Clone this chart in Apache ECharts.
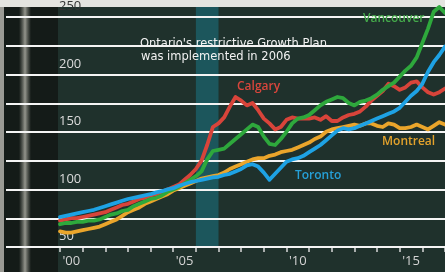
<!DOCTYPE html>
<html>
<head>
<meta charset="utf-8">
<script src="https://cdn.jsdelivr.net/npm/echarts@6/dist/echarts.min.js"></script>
<style>
  html, body { margin: 0; padding: 0; background: #e6e6e2; }
  #chart { width: 445px; height: 272px; }
</style>
</head>
<body>
<div id="chart"></div>
<script>
// years on the bottom axis
var years = ['2000','2001','2002','2003','2004','2005','2006','2007','2008','2009','2010','2011','2012','2013','2014','2015','2016'];
// index values, one per quarter from 2000 Q1 to 2017 Q1
var vancouver = [69,70,70,71,71,72,72,73,75,77,78,80,81,84,86,88,90,91,93,96,98,100,103,106,
                 109,113,123,130,131,132,136,140,144,148,152,150,142,136,135,140,146,153,157,158,
                 160,164,168,171,173,175,174,170,168,171,172,174,177,181,184,187,192,197,201,208,
                 220,232,246,250,245];
var calgary   = [72,73,74,74,75,76,77,78,79,81,83,85,86,88,90,91,93,94,96,98,100,102,106,110,
                 115,122,135,150,153,158,167,175,172,168,170,164,157,153,148,150,156,158,157,157,
                 157,158,156,159,155,155,158,160,161,163,167,172,176,180,186,184,181,183,187,188,
                 183,179,177,179,182];
var toronto   = [75,76,77,78,79,80,81,82.5,84,85.5,87,88.5,90,91,92,93,94,95.5,96.5,98,99,101,102.5,104,
                 105,106,107,108,108.5,110,111,113,115,118,119,117,112,106,111,116,121,123,124,126,
                 129,132,135,139,143,147,149,148,149,151,153,155,157,159,161,163,166,171,176,180,
                 186,196,204,210,217];
var montreal  = [63,62,62,63,64,65,66,67,69,71,73,76,79,81,83,86,88,90,92,94,97,99,101,103,
                 105,107,108,109,110,112,115,117,119,121,123,124,124,126,127,129,130,131,133,135,
                 137,140,142,146,148,149,150,151,152,151,153,153,151,150,153,152,149,149,150,152,
                 150,148,151,154,152];
var yTicks = [50, 100, 150, 200, 250];

function toPoints(vals) {
    var out = [];
    for (var i = 0; i < vals.length; i++) {
        out.push([2000 + i / 4, vals[i]]);
    }
    return out;
}

function lineSeries(name, vals, color) {
    return {
        name: name,
        type: 'line',
        xAxisIndex: 2,
        yAxisIndex: 1,
        data: toPoints(vals),
        showSymbol: false,
        z: 10,
        lineStyle: { color: color, width: 3.8, cap: 'round', join: 'round' }
    };
}

function label(text, x, y, color, family, size, weight) {
    return {
        type: 'text', x: x, y: y, z: 20,
        style: {
            text: text, fill: color,
            fontFamily: family, fontSize: size, fontWeight: weight,
            textVerticalAlign: 'middle', verticalAlign: 'middle'
        }
    };
}

var myChart = echarts.init(document.getElementById('chart'));
var option = {
    backgroundColor: '#1f312c',
    animation: false,
    grid: [
        { left: 6, right: 0, top: 7, bottom: 25 },
        { left: 60, right: 0, top: 7, bottom: 25 }
    ],
    graphic: [
        { type: 'rect', z: -10, shape: { x: 0, y: 0, width: 445, height: 7 }, style: { fill: '#e4e4e0' } },
        { type: 'rect', z: -10, shape: { x: 0, y: 7, width: 58, height: 265 }, style: { fill: '#141b18' } },
        { type: 'rect', z: -10, shape: { x: 0, y: 7, width: 4, height: 265 }, style: { fill: '#9a9a94' } },
        { type: 'rect', z: -9, shape: { x: 19, y: 7, width: 12, height: 265 },
          style: { fill: new echarts.graphic.LinearGradient(0, 0, 1, 0, [
              { offset: 0, color: 'rgba(150,150,140,0)' },
              { offset: 0.5, color: 'rgba(180,180,170,0.8)' },
              { offset: 1, color: 'rgba(150,150,140,0)' }]) } },
        label("Ontario's restrictive Growth Plan", 140, 44, '#f2f2f2', 'DejaVu Sans', 11.5, 'normal'),
        label('was implemented in 2006', 141, 57, '#f2f2f2', 'DejaVu Sans', 11.5, 'normal'),
        label('Vancouver', 363, 19, '#44a84a', 'Open Sans', 12, 600),
        label('Calgary', 237, 87, '#d9463c', 'Open Sans', 12, 600),
        label('Toronto', 295, 176, '#26a0d8', 'Open Sans', 12, 600),
        label('Montreal', 382, 142, '#e4a32c', 'Open Sans', 12, 600)
    ],
    xAxis: [
        { type: 'value', gridIndex: 0, show: false, min: 0, max: 1 },
        {
            type: 'category',
            gridIndex: 1,
            data: years,
            boundaryGap: true,
            axisLine: { show: false },
            axisTick: { show: true, interval: 0, length: 5, lineStyle: { color: '#d8d8d8', width: 1.5 } },
            axisLabel: {
                interval: 0,
                margin: 8,
                color: '#d4d4d4',
                fontSize: 13,
                fontFamily: 'Open Sans',
                formatter: function (v, i) { return i % 5 === 0 ? "'" + v.slice(2) : ''; }
            },
            splitLine: { show: false }
        },
        { type: 'value', gridIndex: 1, show: false, min: 2000, max: 2017 }
    ],
    yAxis: [
        {
            type: 'value',
            gridIndex: 0,
            min: 50,
            max: 250,
            interval: 25,
            z: 2.5,
            axisLine: { show: false },
            axisTick: { show: false },
            axisLabel: {
                inside: true,
                margin: 53,
                verticalAlign: 'bottom',
                padding: [0, 0, 4, 0],
                fontSize: 13,
                fontFamily: 'Open Sans',
                color: function (v) { return Number(v) === 250 ? '#333333' : '#dcdcdc'; },
                formatter: function (v) { return yTicks.indexOf(v) >= 0 ? String(v) : ''; }
            },
            splitLine: { lineStyle: { color: '#f4f4f4', width: 2 } }
        },
        { type: 'value', gridIndex: 1, show: false, min: 50, max: 250 }
    ],
    series: [
        {
            type: 'line',
            xAxisIndex: 2,
            yAxisIndex: 1,
            data: [],
            z: 0,
            markArea: {
                silent: true,
                itemStyle: { color: '#1c565c', opacity: 1 },
                data: [[{ xAxis: 2006 }, { xAxis: 2007 }]]
            }
        },
        lineSeries('Montreal', montreal, '#eaa52b'),
        lineSeries('Calgary', calgary, '#d8443a'),
        lineSeries('Vancouver', vancouver, '#2ea83c'),
        lineSeries('Toronto', toronto, '#1ea2e4')
    ]
};
myChart.setOption(option);
window.onresize = myChart.resize;
</script>
</body>
</html>
